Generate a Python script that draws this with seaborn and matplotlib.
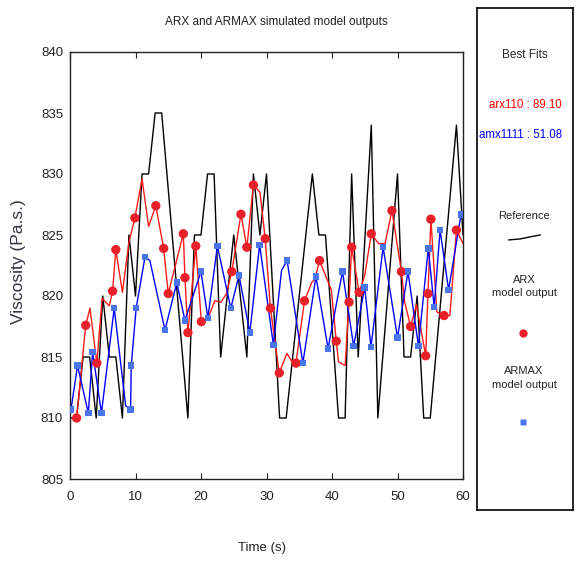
import matplotlib
matplotlib.use("Agg")
import matplotlib.pyplot as plt
import seaborn as sns
import pandas as pd

# reference signal (vertices of the black line)
ref_time = [0, 1, 2, 3, 4, 5, 6, 7, 8, 9, 10, 11, 12, 13, 14, 18, 19, 20, 21, 22,
            23, 25, 27, 28, 29, 30, 32, 33, 37, 38, 39, 41, 42, 43, 44, 46, 47, 50,
            51, 52, 53, 54, 55, 59, 60]
ref_visc = [810, 810, 815, 815, 810, 820, 815, 815, 810, 825, 820, 830, 830, 835, 835,
            810, 825, 825, 830, 830, 815, 825, 815, 830, 825, 830, 810, 810, 830, 825,
            825, 810, 810, 830, 815, 834, 810, 830, 815, 815, 820, 810, 810, 834, 825]

# ARX output: points drawn with a marker
arx_mark_time = [1.0, 2.4, 4.1, 6.5, 7.0, 9.9, 13.1, 14.3, 15.0, 17.3, 17.55, 18.0,
                 19.2, 20.05, 24.7, 26.1, 27.0, 28.0, 29.8, 30.6, 31.95, 34.5, 35.8,
                 38.1, 40.65, 42.6, 43.0, 44.15, 46.0, 49.15, 50.6, 52.0, 54.3, 54.65,
                 55.1, 57.1, 59.0]
arx_mark_visc = [810.0, 817.6, 814.5, 820.4, 823.8, 826.4, 827.4, 823.9, 820.2, 825.1,
                 821.5, 817.0, 824.1, 817.9, 822.0, 826.7, 824.0, 829.1, 824.7, 819.0,
                 813.7, 814.5, 819.6, 822.9, 816.3, 819.5, 824.0, 820.3, 825.1, 827.0,
                 822.0, 817.5, 815.1, 820.2, 826.3, 818.4, 825.4]
# ARX output: other line vertices
arx_line_time = [3.05, 4.9, 6.0, 8.0, 9.0, 11.0, 12.0, 21.1, 22.1, 23.05, 23.9, 29.0,
                 33.1, 33.8, 36.9, 37.4, 39.9, 41.0, 42.0, 45.0, 47.1, 48.1, 51.1,
                 52.9, 56.0, 58.0, 60.0]
arx_line_visc = [819.0, 819.8, 819.2, 820.3, 824.4, 829.6, 825.7, 818.2, 819.6, 819.5,
                 820.2, 828.5, 815.3, 814.7, 821.1, 821.4, 820.5, 814.6, 814.3, 821.7,
                 824.3, 824.3, 819.5, 819.3, 818.7, 818.4, 824.3]

# ARMAX output: points drawn with a marker
amx_mark_time = [0.15, 1.15, 2.8, 3.45, 4.8, 6.75, 9.25, 9.35, 10.1, 11.45, 14.5, 16.3,
                 17.55, 20.0, 21.05, 22.5, 24.55, 25.8, 27.45, 28.95, 31.05, 33.15,
                 35.55, 37.55, 39.4, 41.6, 43.3, 45.0, 45.95, 47.8, 50.0, 51.6, 53.2,
                 54.7, 55.6, 56.5, 57.8, 59.7]
amx_mark_visc = [810.7, 814.3, 810.4, 815.4, 810.4, 819.0, 810.7, 814.3, 819.0, 823.2,
                 817.2, 821.1, 818.0, 822.0, 818.2, 824.1, 819.0, 821.7, 817.0, 824.2,
                 816.0, 822.9, 814.5, 821.6, 815.7, 822.0, 815.9, 820.7, 815.8, 824.0,
                 816.6, 822.0, 815.9, 823.9, 819.1, 825.4, 820.5, 826.7]
amx_line_time = [8.5, 12.2, 32.3]
amx_line_visc = [811.0, 822.9, 822.1]

ref_df = pd.DataFrame({"t": ref_time, "v": ref_visc})
arx_pts = pd.DataFrame({"t": arx_mark_time, "v": arx_mark_visc})
arx_df = pd.concat([arx_pts, pd.DataFrame({"t": arx_line_time, "v": arx_line_visc})]).sort_values("t")
amx_pts = pd.DataFrame({"t": amx_mark_time, "v": amx_mark_visc})
amx_df = pd.concat([amx_pts, pd.DataFrame({"t": amx_line_time, "v": amx_line_visc})]).sort_values("t")

sns.set_style("white")
plt.rcParams['font.family'] = ['Liberation Sans', 'DejaVu Sans']

fig = plt.figure(figsize=(5.77, 5.61), dpi=100)
ax = fig.add_axes([70 / 577, 1 - 479 / 561, 393 / 577, 427 / 561])

sns.lineplot(data=ref_df, x="t", y="v", ax=ax, color="black", lw=1.0,
             estimator=None, sort=False)
sns.lineplot(data=arx_df, x="t", y="v", ax=ax, color="#ff1a1a", lw=1.0,
             estimator=None, sort=False)
sns.lineplot(data=amx_df, x="t", y="v", ax=ax, color="#0000ff", lw=1.0,
             estimator=None, sort=False)
sns.scatterplot(data=arx_pts, x="t", y="v", ax=ax, color="#e8202a", s=45,
                marker="o", edgecolor="none", zorder=5)
sns.scatterplot(data=amx_pts, x="t", y="v", ax=ax, color="#4a74ea", s=22,
                marker="s", edgecolor="none", zorder=5)

ax.set_xlim(0, 60)
ax.set_ylim(805, 840)
ax.set_xticks(range(0, 61, 10))
ax.set_yticks(range(805, 841, 5))
ax.tick_params(axis="x", direction="in", length=4, top=True, bottom=True,
               labelsize=9.5, pad=9, colors="#222222")
ax.tick_params(axis="y", length=0, labelsize=9.5, pad=5, colors="#222222")
ax.set_xlabel("")
ax.set_ylabel("")
for sp in ax.spines.values():
    sp.set_color("#222222")
    sp.set_linewidth(1.0)

fig.text(276 / 577, 1 - 22 / 561, "ARX and ARMAX simulated model outputs",
         ha="center", va="center", fontsize=8.5, color="#222222")
fig.text(262 / 577, 1 - 548 / 561, "Time (s)", ha="center", va="center",
         fontsize=9.5, color="#222222")
fig.text(19 / 577, 1 - 262 / 561, "Viscosity (Pa.s.)", ha="center", va="center",
         rotation=90, fontsize=12.5, color="#333344")

# side box with fit results and legend
lg = fig.add_axes([477 / 577, 1 - 510 / 561, 96 / 577, 502 / 561])
lg.set_xlim(0, 1)
lg.set_ylim(0, 1)
lg.set_xticks([])
lg.set_yticks([])
for sp in lg.spines.values():
    sp.set_color("black")
    sp.set_linewidth(1.2)

lg.text(0.5, 0.906, "Best Fits", ha="center", va="center", fontsize=8.5)
lg.text(0.885, 0.807, "arx110 : 89.10", ha="right", va="center", fontsize=8.3, color="#ff0000")
lg.text(0.885, 0.747, "amx1111 : 51.08", ha="right", va="center", fontsize=8.3, color="#0000ff")
lg.text(0.49, 0.586, "Reference", ha="center", va="center", fontsize=8)
lg.plot([0.33, 0.45, 0.55, 0.66], [0.538, 0.540, 0.544, 0.548], color="black", lw=1.0)
lg.text(0.49, 0.445, "ARX\nmodel output", ha="center", va="center", fontsize=8,
        linespacing=1.45)
lg.plot([0.48], [0.353], marker="o", color="#e8202a", markersize=6, mec="none")
lg.text(0.49, 0.263, "ARMAX\nmodel output", ha="center", va="center", fontsize=8,
        linespacing=1.45)
lg.plot([0.48], [0.176], marker="s", color="#4a74ea", markersize=4, mec="none")

fig.savefig("out.png", dpi=100)
